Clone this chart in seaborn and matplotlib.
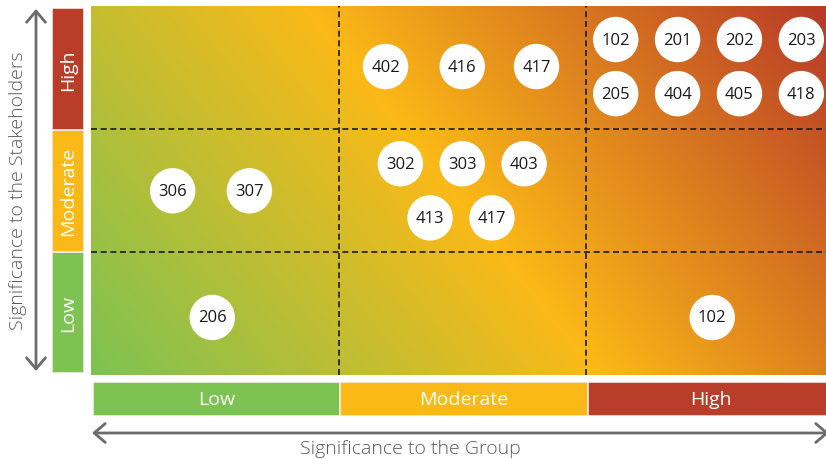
import numpy as np
import pandas as pd
import matplotlib
matplotlib.use("Agg")
import matplotlib.pyplot as plt
from matplotlib.colors import LinearSegmentedColormap
from matplotlib.patches import FancyArrowPatch
import seaborn as sns

sns.set_theme(style="white")
plt.rcParams["font.family"] = ["Open Sans", "DejaVu Sans"]

# Topic codes and their positions on the matrix (x: group, y: stakeholders; 0-3 scale)
topic_codes = ["402", "416", "417", "102", "201", "202", "203", "205", "404", "405", "418",
               "302", "303", "403", "413", "417", "306", "307",
               "206", "102"]
group_score = [1.19, 1.50, 1.80, 2.12, 2.37, 2.62, 2.87, 2.12, 2.37, 2.62, 2.87,
               1.25, 1.50, 1.75, 1.37, 1.62, 0.33, 0.64,
               0.49, 2.51]
stakeholder_score = [2.51, 2.51, 2.51, 2.73, 2.73, 2.73, 2.73, 2.29, 2.29, 2.29, 2.29,
                     1.72, 1.72, 1.72, 1.28, 1.28, 1.50, 1.50,
                     0.47, 0.47]

levels = ["Low", "Moderate", "High"]
level_colors = ["#7dc352", "#fbb917", "#b93d29"]

W, H = 826, 460
fig = plt.figure(figsize=(W / 100, H / 100), dpi=100)


def px_axes(left, top, right, bottom):
    return fig.add_axes([left / W, 1 - bottom / H, (right - left) / W, (bottom - top) / H])


cell_px = 247.5
x_max = (826 - 91) / cell_px

# Main matrix with a diagonal green-yellow-red wash
ax = px_axes(91, 7.3, 826, 376.3)
gx, gy = np.meshgrid(np.linspace(0, 1, 500), np.linspace(0, 1, 500))
shade = 0.72 * gx + 0.288 * gy
cmap = LinearSegmentedColormap.from_list(
    "heat", [(0.0, "#7dc352"), (0.5, "#fbb917"), (1.0, "#b83b28")])
ax.imshow(shade, cmap=cmap, vmin=0, vmax=1, origin="lower",
          extent=[0, x_max, 0, 3], aspect="auto", interpolation="bilinear", zorder=0)
for v in (1, 2):
    ax.axvline(v, color="#1a1a1a", lw=1.2, ls=(0, (3.6, 2.2)), zorder=1)
    ax.axhline(v, color="#1a1a1a", lw=1.2, ls=(0, (3.6, 2.2)), zorder=1)

df = pd.DataFrame({"code": topic_codes, "group": group_score, "stake": stakeholder_score})
sns.scatterplot(data=df, x="group", y="stake", s=1070, color="white",
                edgecolor="none", ax=ax, legend=False, zorder=3, clip_on=False)
for code, gxv, syv in zip(df["code"], df["group"], df["stake"]):
    ax.text(gxv, syv, code, ha="center", va="center", fontsize=12,
            color="#1a1a1a", zorder=4)
ax.set_xlim(0, x_max)
ax.set_ylim(0, 3)
ax.set_axis_off()

# Stakeholder level band (left)
axl = px_axes(51.7, 9.3, 84.3, 374.3)
axl.barh(y=[0, 1, 2], width=1, height=1, align="edge", color=level_colors,
         edgecolor="#f3ece6", linewidth=1.2)
for i, lab in enumerate(levels):
    axl.text(0.5, i + 0.5, lab, rotation=90, ha="center", va="center",
             color="white", fontsize=14)
axl.set_xlim(0, 1)
axl.set_ylim(0, 3)
axl.set_axis_off()

# Group level band (bottom)
axb = px_axes(92.5, 383.3, 826, 416.7)
axb.bar(x=[0, 1, 2], height=1, width=1, align="edge", color=level_colors,
        edgecolor="#f3ece6", linewidth=1.2)
for i, lab in enumerate(levels):
    axb.text(i + 0.5, 0.5, lab, ha="center", va="center", color="white", fontsize=14)
axb.set_xlim(0, (826 - 92.5) / cell_px)
axb.set_ylim(0, 1)
axb.set_axis_off()

# Double-headed axis arrows
arrow_kw = dict(arrowstyle="<->,head_length=0.4,head_width=0.34", color="#6b6b6b",
                lw=2, mutation_scale=20, transform=fig.transFigure, shrinkA=0, shrinkB=0)
fig.add_artist(FancyArrowPatch((36 / W, 1 - 10 / H), (36 / W, 1 - 372 / H), **arrow_kw))
fig.add_artist(FancyArrowPatch((92 / W, 1 - 434 / H), (829 / W, 1 - 434 / H), **arrow_kw))

fig.text(18 / W, 1 - 191 / H, "Significance to the Stakeholders", rotation=90,
         ha="center", va="center", color="#5a5a5a", fontsize=14, fontweight="light")
fig.text(410 / W, 1 - 449 / H, "Significance to the Group",
         ha="center", va="center", color="#5a5a5a", fontsize=14, fontweight="light")

fig.savefig("out.png", dpi=100)
